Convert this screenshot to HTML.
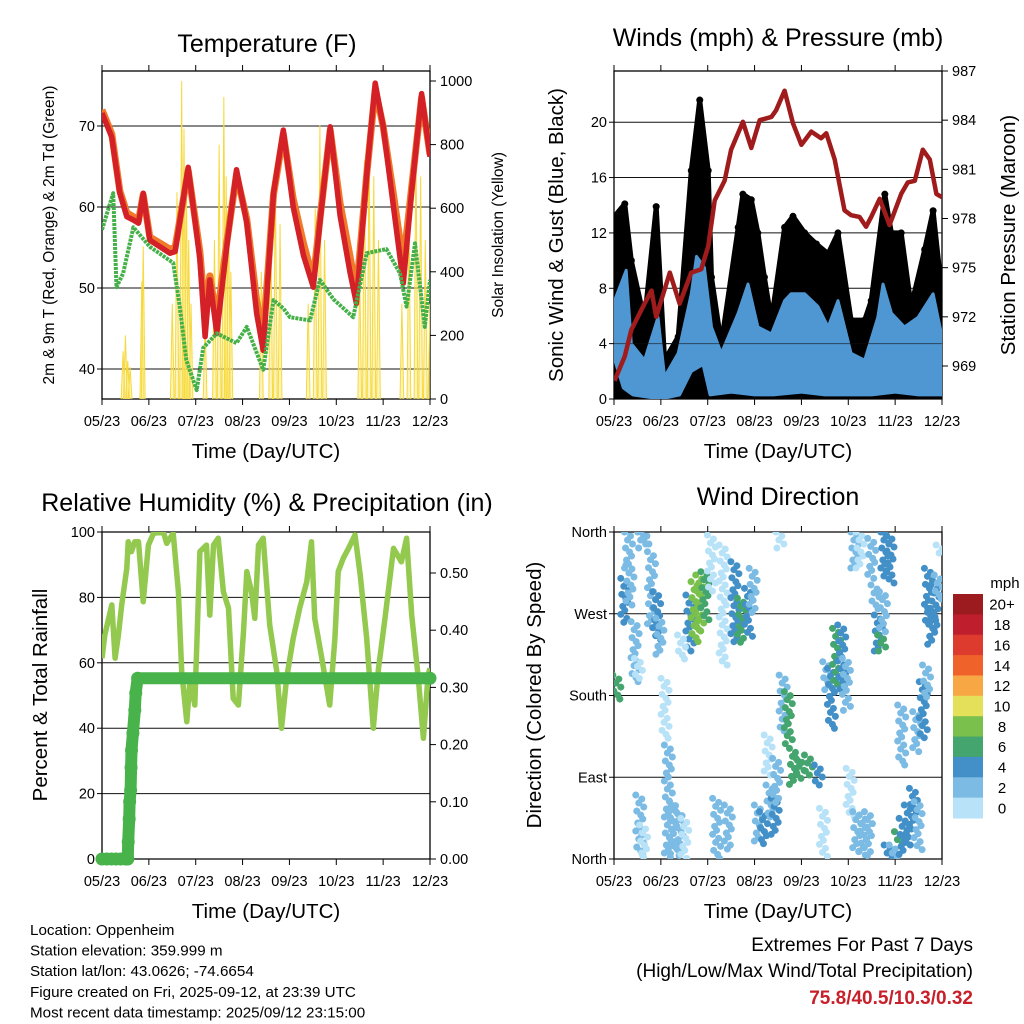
<!DOCTYPE html>
<html><head><meta charset="utf-8"><style>
html,body{margin:0;padding:0;background:#fff;}
svg{display:block;font-family:"Liberation Sans",Arial,sans-serif;}
</style></head><body>
<svg id="c" width="1024" height="1024" viewBox="0 0 1024 1024"></svg>
<script>
// ---------- DATA ----------
const monthLabels = ["05/23","06/23","07/23","08/23","09/23","10/23","11/23","12/23"];
const tempT   = [0,0.21,0.38,0.53,0.67,0.78,0.88,1.02,1.45,1.56,1.84,2.09,2.20,2.30,2.45,2.66,2.87,3.09,3.30,3.44,3.66,3.87,4.08,4.30,4.51,4.65,4.87,5.08,5.29,5.43,5.65,5.83,6.00,6.22,6.43,6.61,6.82,7.0];
const temp2m  = [71.6,68.6,61.7,58.8,58.4,58.0,61.7,55.9,54.3,54.5,64.9,53.5,44.0,51.0,44.4,55.0,64.6,58.0,46.9,42.3,61.7,69.5,60.0,54.0,50.1,58.0,69.9,59.0,52.0,48.1,64.0,75.3,70.0,60.0,50.6,62.0,74.0,66.2];
const temp9m  = [72.0,69.0,62.0,59.3,58.8,58.3,61.5,56.3,54.8,55.0,64.5,54.5,46.5,51.5,46.0,55.5,64.0,58.5,48.5,44.0,61.5,69.0,61.0,55.5,51.0,58.5,69.5,60.5,54.0,49.5,64.0,74.5,70.0,61.5,53.0,62.5,73.5,66.5];
const dewT    = [0,0.24,0.31,0.45,0.67,1.02,1.52,1.66,1.80,2.02,2.16,2.45,2.87,3.09,3.44,3.66,3.87,4.01,4.44,4.65,4.94,5.36,5.65,6.07,6.36,6.50,6.68,6.89,7.0];
const dewV    = [57.2,61.7,50.1,51.8,57.5,55.1,53.1,47.7,41.1,37.4,42.6,44.4,43.2,45.2,39.9,48.5,47.5,46.4,46.0,51.0,48.6,46.4,54.3,54.8,51.8,47.7,55.5,45.2,51.0];
const solarT  = [0.45,0.50,0.55,0.60,0.85,0.88,1.50,1.60,1.70,1.75,1.80,1.85,1.90,2.20,2.40,2.50,2.60,2.65,2.70,2.75,3.40,3.60,3.70,3.80,4.40,4.55,4.65,4.75,5.50,5.60,5.70,5.80,5.90,6.40,6.55,6.70,6.80,6.90,7.0];
const solarV  = [150,200,120,100,370,480,300,650,1000,850,700,500,300,250,500,800,950,700,600,400,400,600,700,550,300,600,860,500,400,750,830,700,500,300,600,820,700,500,300];
const windT     = [0.01,0.26,0.37,0.65,0.94,1.08,1.37,1.65,1.76,1.93,2.08,2.29,2.65,2.86,3.07,3.36,3.64,3.78,4.07,4.35,4.57,4.78,5.06,5.35,5.63,5.74,5.92,6.20,6.49,6.81,7.0];
const windHi    = [7.1,9.3,4.0,2.8,5.9,1.6,3.3,7.6,10.3,9.5,5.2,3.3,6.2,8.3,5.2,4.7,7.1,7.6,7.6,6.7,5.2,7.1,3.3,2.8,5.9,8.3,6.2,5.2,5.9,7.6,4.5];
const windLoT   = [0,0.2,0.4,1.0,1.4,1.65,1.9,2.05,2.5,3.0,3.4,4.0,4.5,5.0,5.5,6.0,6.5,7.0];
const windLo    = [3,0.8,0.3,0,0.3,2.0,2.5,0.3,0.5,0.3,0.3,0.5,0.3,0.3,0.3,0.5,0.3,0.3];
const gustT     = [0.01,0.23,0.37,0.65,0.90,1.08,1.37,1.65,1.83,2.01,2.08,2.29,2.65,2.75,2.93,3.07,3.21,3.36,3.64,3.82,4.07,4.32,4.57,4.78,5.06,5.35,5.49,5.78,5.92,6.13,6.34,6.63,6.81,7.0];
const gustV     = [13.2,14.1,10.0,5.7,13.9,2.8,4.5,16.5,21.6,16.5,8.8,4.0,12.4,14.8,14.4,12.0,8.8,5.7,12.4,13.2,12.0,11.2,10.5,12.0,5.7,5.7,7.1,14.8,12.0,12.0,6.7,10.8,13.6,7.6];
const presT     = [0.01,0.23,0.37,0.65,0.80,0.90,1.19,1.40,1.65,1.86,2.01,2.15,2.36,2.50,2.75,2.93,3.11,3.36,3.46,3.64,3.82,4.00,4.21,4.42,4.53,4.71,4.92,5.06,5.24,5.38,5.49,5.67,5.88,6.13,6.27,6.42,6.59,6.74,6.88,7.0];
const presV     = [968.1,969.6,971.2,972.8,973.6,972.0,974.7,972.8,974.7,974.9,976.3,979.1,980.3,982.2,983.9,982.3,984.0,984.2,984.6,985.8,983.8,982.5,983.3,982.9,983.2,981.6,978.5,978.2,978.1,977.5,978.1,979.2,977.6,979.5,980.2,980.3,982.2,981.6,979.5,979.3];
const rhT = [0,0.06,0.21,0.28,0.35,0.42,0.53,0.56,0.63,0.70,0.78,0.88,0.99,1.10,1.31,1.38,1.52,1.63,1.70,1.81,1.88,1.98,2.09,2.23,2.30,2.38,2.48,2.59,2.70,2.80,2.91,3.02,3.09,3.19,3.26,3.34,3.44,3.58,3.73,3.83,3.94,4.08,4.22,4.37,4.47,4.54,4.69,4.86,4.97,5.04,5.15,5.26,5.40,5.51,5.65,5.79,5.90,6.04,6.22,6.39,6.50,6.61,6.75,6.86,6.96,7.0];
const rhV = [61.4,68.5,77.7,61.4,68.5,77.7,88.9,97.0,94.0,97.0,97.0,78.7,96.0,99.6,100,96.5,99.6,81.7,57.3,42.0,55.3,47.1,94.0,96.0,74.6,96.0,98.1,81.7,76.7,49.1,47.1,69.5,87.9,81.7,73.6,96.0,98.1,71.6,57.3,40.0,55.3,67.5,76.7,84.8,97.0,73.6,61.4,47.1,67.5,87.9,92.0,95.0,99.1,86.9,67.5,40.0,58.3,73.6,95.0,90.9,98.1,74.6,55.3,36.9,56.3,58.3];
const prT = [0,0.1,0.2,0.3,0.4,0.5,0.55,0.56,0.58,0.59,0.61,0.62,0.63,0.66,0.70,0.72,0.76,7.0];
const prV = [0,0,0,0,0,0,0,0.03,0.07,0.10,0.12,0.16,0.19,0.22,0.26,0.29,0.316,0.316];
const dirT  = [.06,.23,.31,.34,.45,.52,.59,.66,.55,.63,.80,.91,.98,1.09,1.16,1.27,1.41,1.51,1.62,1.73,1.83,1.94,1.44,2.08,2.19,2.33,2.44,2.58,2.72,2.87,2.97,3.08,3.19,3.33,3.44,3.54,3.29,3.47,3.61,3.72,3.83,3.97,4.15,4.36,4.47,4.54,4.64,4.75,4.86,4.96,5.04,5.18,5.32,5.43,5.14,5.25,5.50,5.57,5.64,5.71,5.78,5.89,5.75,5.85,5.96,6.07,6.17,6.28,6.39,6.49,6.14,6.46,6.60,6.67,6.71,6.78,6.85,6.92,6.96];
const dirHi = [202.5,309,360,323.7,261.3,220.9,360,360,70.4,37.4,338.3,294.3,265,198.9,125.5,63.1,52.1,44.7,290.6,305.3,312.7,316.3,246.6,356.7,66.8,345.7,59.4,327.3,287,298,320,59.4,52.1,81.4,66.8,360,136.5,110.8,202.5,184.2,121.8,110.8,114.5,103.5,55.8,217.2,209.9,253.9,257.6,220.9,99.8,52.1,48.4,52.1,360,360,353,301.7,268.6,246.6,360,356.7,294.3,15.4,15.4,30.1,44.7,59.4,77.8,63.1,169.5,162.2,195.2,213.6,320,276,301.7,312.7,345.7];
const dirLo = [173.2,257.6,320,276,195.2,195.2,338.3,345.7,0.7,0.7,253.9,239.3,224.6,132.8,0.7,4.4,0.7,0.7,228.2,239.3,250.3,261.3,217.2,294.3,0.7,213.6,8.1,235.6,235.6,243,268.6,19.1,15.4,44.7,26.4,338.3,92.5,59.4,140.2,125.5,81.4,85.1,88.8,77.8,0.7,184.2,140.2,191.5,184.2,162.2,44.7,4.4,4.4,0.7,316.3,320,309,272.3,228.2,228.2,309,301.7,250.3,0.7,0.7,15.4,4.4,15.4,37.4,8.1,103.5,118.1,132.8,176.9,257.6,235.6,250.3,283.3,334.7];
const dirSpd = [6,4,2,3,2,1,3,2,2,1,2,4,3,0,2,2,2,1,4,8,9,6,1,1,2,0,2,4,6,5,3,3,4,3,4,0,1,2,3,6,6,6,6,4,1,2,4,6,4,3,1,2,2,2,2,1,2,2,4,7,4,4,3,4,3,6,4,4,4,2,2,2,4,3,4,5,4,3,1];
const speedColors = ["#b8e2f7","#7bbbe4","#4390c8","#45a56e","#7ac04c","#e5e05a","#f7a744","#ef6229","#dd3b2d","#bf1e2d","#9b1b1e"];
const speedLabels = ["0","2","4","6","8","10","12","14","16","18","20+"];

// ---------- HELPERS ----------
const NS="http://www.w3.org/2000/svg";
const svg=document.getElementById('c');
function mk(tag,attrs,parent){const e=document.createElementNS(NS,tag);for(const k in attrs)e.setAttribute(k,attrs[k]);(parent||svg).appendChild(e);return e;}
function txt(s,x,y,size,anchor,parent,extra){const e=mk('text',Object.assign({x:x,y:y,'font-size':size,'text-anchor':anchor||'middle',fill:'#000'},extra||{}),parent);e.textContent=s;return e;}
function P(x0,x1,y0,y1){return {x0,x1,y0,y1,X:m=>x0+m/7*(x1-x0)};}
function lin(v0,v1,p0,p1){return v=>p0+(v-v0)/(v1-v0)*(p1-p0);}
let clipN=0;
function clipFor(p){const id='cl'+(clipN++);const cp=mk('clipPath',{id:id});mk('rect',{x:p.x0,y:p.y0,width:p.x1-p.x0,height:p.y1-p.y0},cp);return 'url(#'+id+')';}
function frame(p,name){
  const g=mk('g',{});
  
  mk('rect',{x:p.x0,y:p.y0,width:p.x1-p.x0,height:p.y1-p.y0,fill:'none',stroke:'#000','stroke-width':1.3},g);
  monthLabels.forEach((l,i)=>{const x=p.X(i);
    mk('line',{x1:x,x2:x,y1:p.y1,y2:p.y1+6,stroke:'#000'},g);
    mk('line',{x1:x,x2:x,y1:p.y0,y2:p.y0-6,stroke:'#000'},g);
    const t=txt(l,x,p.y1+27,14.5,'middle',g);
    
  });
  const xt=txt('Time (Day/UTC)',(p.x0+p.x1)/2,p.y1+59,20.5,'middle',g);
  
  return g;
}
function yAxis(p,vals,labels,scale,side,grid,g){
  vals.forEach((v,i)=>{const y=scale(v);
    if(grid) mk('line',{x1:p.x0,x2:p.x1,y1:y,y2:y,stroke:'#111','stroke-width':1},g);
    if(side==='L'){mk('line',{x1:p.x0-5,x2:p.x0,y1:y,y2:y,stroke:'#000'},g);
      const t=txt(labels[i],p.x0-7,y+5,14.5,'end',g);}
    else {mk('line',{x1:p.x1,x2:p.x1+6,y1:y,y2:y,stroke:'#000'},g);
      const t=txt(labels[i],p.x1+10,y+5,14.5,'start',g);}
  });
}
function rotTitle(s,x,y,size,g,name){const t=txt(s,x,y,size,'middle',g,{transform:'rotate(-90 '+x+' '+y+')'});}
function ptsStr(T,V,X,Y){return T.map((t,i)=>X(t).toFixed(1)+','+Y(V[i]).toFixed(1)).join(' ');}

// ---------- PANEL 1: TEMPERATURE ----------
(function(){
  const p=P(102,430,71,399);
  const yT=lin(40,70,369,126), yS=lin(0,1000,399,81);
  const g=frame(p,'temperature');
  const tt=txt('Temperature (F)',267,52,25,'middle',g);
  yAxis(p,[40,50,60,70],['40','50','60','70'],yT,'L',true,g);
  yAxis(p,[0,200,400,600,800,1000],['0','200','400','600','800','1000'],yS,'R',false,g);
  rotTitle('2m & 9m T (Red, Orange) & 2m Td (Green)',54,235,15.5,g,'temperature-y-axis-title');
  rotTitle('Solar Insolation (Yellow)',503,235,15.5,g,'solar-y-axis-title');
  const cg=mk('g',{'clip-path':clipFor(p)},g);
  const sg=mk('g',{},cg);
  
  solarT.forEach((t,i)=>{
    const s=mk('path',{d:'M'+p.X(t-0.04)+','+yS(0)+' L'+p.X(t)+','+yS(solarV[i])+' L'+p.X(t+0.04)+','+yS(0),fill:'#fcea7a','fill-opacity':0.5,stroke:'#f6d93b','stroke-width':1},sg);
    
  });
  const o=mk('polyline',{points:ptsStr(tempT,temp9m,p.X,yT),fill:'none',stroke:'#f07a2a','stroke-width':7,'stroke-linejoin':'round'},cg);
  
  const r=mk('polyline',{points:ptsStr(tempT,temp2m,p.X,yT),fill:'none',stroke:'#d42027','stroke-width':5.5,'stroke-linejoin':'round'},cg);
  
  const d=mk('polyline',{points:ptsStr(dewT,dewV,p.X,yT),fill:'none',stroke:'#45b048','stroke-width':4,'stroke-dasharray':'3 1','stroke-linejoin':'round'},cg);
  
})();

// ---------- PANEL 2: WINDS ----------
(function(){
  const p=P(614,942,71,399);
  const yW=lin(0,20,399,122.2), yP=lin(969,987,366,71);
  const g=frame(p,'winds');
  const tt=txt('Winds (mph) & Pressure (mb)',778,46,25,'middle',g);
  yAxis(p,[0,4,8,12,16,20],['0','4','8','12','16','20'],yW,'L',true,g);
  yAxis(p,[969,972,975,978,981,984,987],['969','972','975','978','981','984','987'],yP,'R',false,g);
  rotTitle('Sonic Wind & Gust (Blue, Black)',563,235,20.5,g,'wind-y-axis-title');
  rotTitle('Station Pressure (Maroon)',1015,235,20.5,g,'pressure-y-axis-title');
  const cg=mk('g',{'clip-path':clipFor(p)},g);
  const gustPoly=ptsStr(gustT,gustV,p.X,yW)+' '+p.X(7)+','+yW(0)+' '+p.X(0)+','+yW(0);
  const gb=mk('polygon',{points:gustPoly,fill:'#000',stroke:'#000','stroke-width':5,'stroke-linejoin':'round'},cg);
  
  gustT.forEach((t,i)=>{const c=mk('circle',{cx:p.X(t),cy:yW(gustV[i]),r:3.5,fill:'#000'},cg);
    });
  const loRev=windLoT.map((t,i)=>[t,windLo[i]]).reverse();
  const bluePoly=ptsStr(windT,windHi,p.X,yW)+' '+loRev.map(a=>p.X(a[0])+','+yW(a[1])).join(' ');
  const bb=mk('polygon',{points:bluePoly,fill:'#4f97d2',stroke:'#4f97d2','stroke-width':3,'stroke-linejoin':'round'},cg);
  
  mk('line',{x1:p.x0,x2:p.x1,y1:yW(4),y2:yW(4),stroke:'#111','stroke-opacity':0.6},cg);
  const pr=mk('polyline',{points:ptsStr(presT,presV,p.X,yP),fill:'none',stroke:'#a01c1c','stroke-width':4.5,'stroke-linejoin':'round'},cg);
  
})();

// ---------- PANEL 3: RH ----------
(function(){
  const p=P(102,430,532,859);
  const yR=lin(0,100,859,532), yPr=lin(0,0.5,859,573);
  const g=frame(p,'humidity');
  const tt=txt('Relative Humidity (%) & Precipitation (in)',267,511,25,'middle',g);
  yAxis(p,[0,20,40,60,80,100],['0','20','40','60','80','100'],yR,'L',true,g);
  yAxis(p,[0,0.1,0.2,0.3,0.4,0.5],['0.00','0.10','0.20','0.30','0.40','0.50'],yPr,'R',false,g);
  rotTitle('Percent & Total Rainfall',47,695,20.5,g,'humidity-y-axis-title');
  const cg=mk('g',{'clip-path':clipFor(p)},g);
  const rh=mk('polyline',{points:ptsStr(rhT,rhV,p.X,yR),fill:'none',stroke:'#92c94e','stroke-width':5.5,'stroke-linejoin':'round'},cg);
  
  const pl=mk('polyline',{points:ptsStr(prT,prV,p.X,yPr),fill:'none',stroke:'#48b34a','stroke-width':12,'stroke-linecap':'round','stroke-linejoin':'round'},g);
  
  prT.forEach((t,i)=>{const c=mk('circle',{cx:p.X(t),cy:yPr(prV[i]),r:6.5,fill:'#48b34a'},g);
    });
})();

// ---------- PANEL 4: WIND DIRECTION ----------
(function(){
  const p=P(614,942,532,859);
  const yD=lin(0,360,859,532);
  const g=frame(p,'wind-direction');
  const tt=txt('Wind Direction',778,505,25,'middle',g);
  yAxis(p,[0,90,180,270,360],['North','East','South','West','North'],yD,'L',true,g);
  rotTitle('Direction (Colored By Speed)',541,695,20.5,g,'direction-y-axis-title');
  const cg=mk('g',{'clip-path':clipFor(p)},g);
  const jit=[-4,2,-1,4,-3,1,3,-2,0];
  dirT.forEach((t,i)=>{
    const col=speedColors[Math.max(0,Math.min(10,Math.floor(dirSpd[i]/2)))];
    const sg=mk('g',{fill:col},cg);
    
    const yA=yD(dirHi[i]), yB=yD(dirLo[i]);
    let k=0;
    for(let y=yA;y<=yB+0.1;y+=4){const dx=jit[k%jit.length];k++;
      mk('circle',{cx:p.X(t)+dx,cy:y,r:3.5},sg);}
  });
  const lg=mk('g',{});
  
  const lt=txt('mph',1005,588,15,'middle',lg);
  const top=594,h=224/11;
  for(let i=0;i<11;i++){const j=10-i;
    const r=mk('rect',{x:953,y:top+i*h,width:30,height:h+0.5,fill:speedColors[j]},lg);
    
    const t=txt(speedLabels[j],1002,top+i*h+h/2+5.5,15,'middle',lg);}
})();

// ---------- FOOTER ----------
(function(){
  const info=["Location: Oppenheim","Station elevation: 359.999 m","Station lat/lon: 43.0626; -74.6654","Figure created on Fri, 2025-09-12, at 23:39 UTC","Most recent data timestamp: 2025/09/12 23:15:00"];
  const g=mk('g',{});
  info.forEach((s,i)=>{txt(s,30,935+i*20.6,15.2,'start',g);});
  const e=mk('g',{});
  txt('Extremes For Past 7 Days',973,951,19,'end',e);
  txt('(High/Low/Max Wind/Total Precipitation)',973,977,19,'end',e);
  txt('75.8/40.5/10.3/0.32',973,1004,19,'end',e,{fill:'#c8202a','font-weight':'bold'});
})();
</script>
</body></html>
